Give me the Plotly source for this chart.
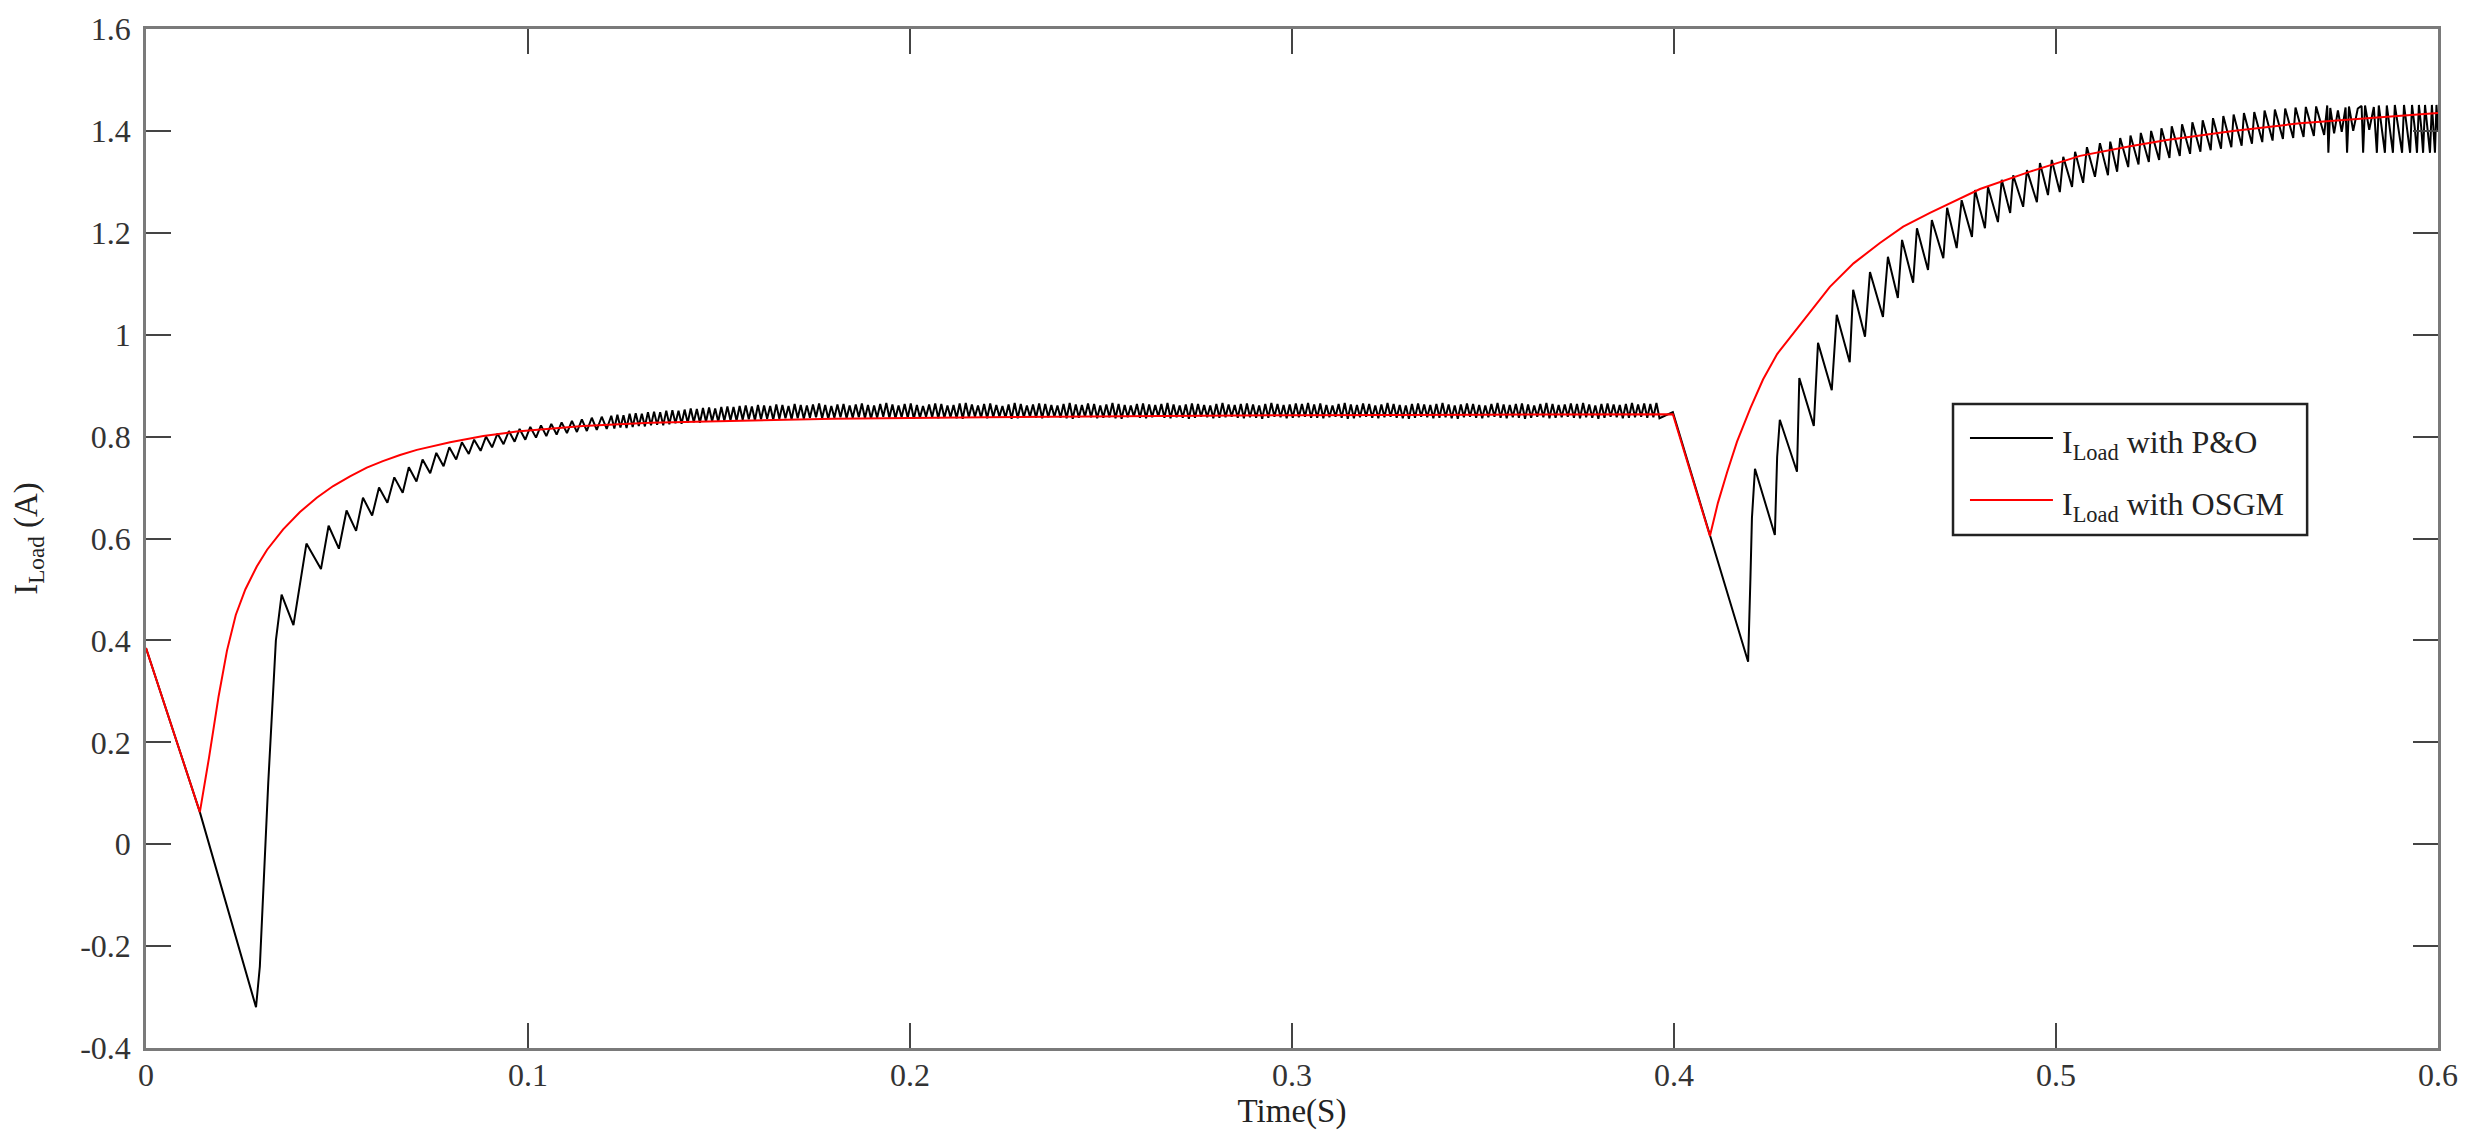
import plotly.graph_objects as go

# ---------------- data ----------------
x_tick_vals = [0, 0.1, 0.2, 0.3, 0.4, 0.5, 0.6]
x_tick_text = ["0", "0.1", "0.2", "0.3", "0.4", "0.5", "0.6"]
y_tick_vals = [-0.4, -0.2, 0, 0.2, 0.4, 0.6, 0.8, 1.0, 1.2, 1.4, 1.6]
y_tick_text = ["-0.4", "-0.2", "0", "0.2", "0.4", "0.6", "0.8", "1", "1.2", "1.4", "1.6"]

# I_Load with OSGM (red)
osgm_points = [
    (0.0, 0.385), (0.0141, 0.063), (0.0165, 0.170), (0.0190, 0.290), (0.0212, 0.380),
    (0.0235, 0.450), (0.0260, 0.500), (0.0290, 0.545), (0.0317, 0.578), (0.0359, 0.618),
    (0.0403, 0.652), (0.0447, 0.680), (0.0490, 0.703), (0.0534, 0.722), (0.0578, 0.739),
    (0.0620, 0.752), (0.0665, 0.764), (0.0709, 0.774), (0.0796, 0.789), (0.0883, 0.801),
    (0.0970, 0.810), (0.1058, 0.816), (0.1144, 0.821), (0.1320, 0.827), (0.1480, 0.830),
    (0.1800, 0.835), (0.2200, 0.838), (0.2550, 0.840), (0.3000, 0.842), (0.3500, 0.843),
    (0.3997, 0.844), (0.4094, 0.605), (0.4115, 0.670), (0.4139, 0.730), (0.4165, 0.790),
    (0.4200, 0.856), (0.4233, 0.912), (0.4270, 0.962), (0.4322, 1.012), (0.4365, 1.055),
    (0.4408, 1.094), (0.4470, 1.140), (0.4539, 1.180), (0.4600, 1.212), (0.4670, 1.239),
    (0.4801, 1.286), (0.4932, 1.320), (0.5063, 1.351), (0.5194, 1.370), (0.5290, 1.382),
    (0.5463, 1.400), (0.5639, 1.415), (0.5814, 1.425), (0.6000, 1.435),
]

# I_Load with P&O (black): start-up transient
po_startup = [
    (0.0, 0.385), (0.0141, 0.063), (0.0288, -0.320), (0.0298, -0.240), (0.0320, 0.120),
    (0.0340, 0.400), (0.0355, 0.490),
    (0.0386, 0.430), (0.0420, 0.590), (0.0458, 0.540), (0.0478, 0.625), (0.0505, 0.580),
    (0.0525, 0.655), (0.0550, 0.615), (0.0568, 0.680), (0.0592, 0.645), (0.0610, 0.700),
    (0.0632, 0.670), (0.0650, 0.720), (0.0672, 0.690), (0.0688, 0.740), (0.0708, 0.712),
    (0.0724, 0.755), (0.0744, 0.728), (0.0760, 0.768), (0.0779, 0.742), (0.0794, 0.779),
    (0.0812, 0.755), (0.0827, 0.789), (0.0845, 0.766), (0.0859, 0.794), (0.0876, 0.772),
    (0.0890, 0.800), (0.0906, 0.779), (0.0920, 0.806), (0.0936, 0.785), (0.0950, 0.811),
    (0.0965, 0.790), (0.0978, 0.815), (0.0993, 0.794), (0.1006, 0.819), (0.1021, 0.798),
    (0.1034, 0.822), (0.1048, 0.801), (0.1061, 0.825), (0.1075, 0.804), (0.1088, 0.828),
    (0.1102, 0.807), (0.1115, 0.831), (0.1128, 0.809), (0.1141, 0.834), (0.1154, 0.811),
    (0.1167, 0.837), (0.1180, 0.813), (0.1193, 0.839), (0.1206, 0.815),
]

# P&O steady-state ripple: sample start and half-period of the ripple
po_plateau_t0 = 0.1218
po_plateau_half_period = 0.0008
po_plateau_peaks = [
    0.841, 0.843, 0.842, 0.845, 0.846, 0.845, 0.848, 0.849, 0.848, 0.851,
    0.852, 0.851, 0.853, 0.855, 0.854, 0.856, 0.857, 0.855, 0.858, 0.859,
    0.858, 0.860, 0.861, 0.859, 0.862, 0.861, 0.860, 0.863, 0.862, 0.860,
    0.864, 0.862, 0.861, 0.863, 0.865, 0.862, 0.860, 0.863, 0.864, 0.861,
    0.863, 0.865, 0.862, 0.861, 0.864, 0.866, 0.863, 0.861, 0.864, 0.865,
    0.862, 0.860, 0.863, 0.865, 0.864, 0.861, 0.862, 0.865, 0.866, 0.863,
    0.861, 0.864, 0.865, 0.862, 0.860, 0.863, 0.866, 0.864, 0.861, 0.863,
    0.865, 0.864, 0.862, 0.861, 0.864, 0.866, 0.863, 0.862, 0.865, 0.864,
    0.861, 0.863, 0.866, 0.864, 0.862, 0.861, 0.864, 0.865, 0.863, 0.862,
    0.864, 0.866, 0.863, 0.861, 0.863, 0.865, 0.864, 0.862, 0.861, 0.864,
    0.866, 0.863, 0.862, 0.864, 0.865, 0.863, 0.861, 0.864, 0.866, 0.864,
    0.862, 0.863, 0.865, 0.864, 0.866, 0.863, 0.865, 0.862, 0.861, 0.864,
    0.866, 0.863, 0.862, 0.865, 0.864, 0.861, 0.863, 0.866, 0.864, 0.862,
    0.861, 0.864, 0.865, 0.863, 0.862, 0.864, 0.866, 0.863, 0.861, 0.863,
    0.865, 0.864, 0.862, 0.861, 0.864, 0.866, 0.863, 0.862, 0.864, 0.865,
    0.863, 0.861, 0.864, 0.866, 0.864, 0.862, 0.863, 0.865, 0.864, 0.866,
    0.863, 0.861, 0.864, 0.865, 0.863, 0.862, 0.864, 0.866, 0.863, 0.865,
    0.864, 0.866,
]
po_plateau_troughs = [
    0.816, 0.818, 0.817, 0.819, 0.821, 0.820, 0.822, 0.823, 0.822, 0.824,
    0.826, 0.825, 0.827, 0.828, 0.827, 0.829, 0.830, 0.829, 0.831, 0.832,
    0.831, 0.833, 0.834, 0.832, 0.834, 0.835, 0.833, 0.835, 0.836, 0.834,
    0.836, 0.835, 0.837, 0.838, 0.836, 0.835, 0.837, 0.838, 0.836, 0.837,
    0.838, 0.836, 0.835, 0.837, 0.839, 0.837, 0.836, 0.838, 0.837, 0.835,
    0.837, 0.839, 0.838, 0.836, 0.837, 0.838, 0.836, 0.835, 0.838, 0.839,
    0.837, 0.836, 0.838, 0.839, 0.837, 0.835, 0.836, 0.838, 0.839, 0.837,
    0.836, 0.838, 0.839, 0.837, 0.836, 0.835, 0.837, 0.839, 0.838, 0.836,
    0.837, 0.838, 0.836, 0.835, 0.838, 0.839, 0.837, 0.836, 0.838, 0.839,
    0.837, 0.836, 0.838, 0.837, 0.835, 0.837, 0.839, 0.838, 0.836, 0.837,
    0.838, 0.839, 0.837, 0.836, 0.838, 0.837, 0.835, 0.837, 0.839, 0.838,
    0.836, 0.837, 0.838, 0.839, 0.837, 0.837, 0.836, 0.838, 0.839, 0.837,
    0.835, 0.836, 0.838, 0.839, 0.837, 0.836, 0.838, 0.839, 0.837, 0.836,
    0.835, 0.837, 0.839, 0.838, 0.836, 0.837, 0.838, 0.836, 0.835, 0.838,
    0.839, 0.837, 0.836, 0.838, 0.839, 0.837, 0.836, 0.838, 0.837, 0.835,
    0.837, 0.839, 0.838, 0.836, 0.837, 0.838, 0.839, 0.837, 0.836, 0.838,
    0.837, 0.835, 0.837, 0.839, 0.838, 0.836, 0.837, 0.838, 0.839, 0.837,
    0.838, 0.836,
]

# P&O after the irradiance step at t = 0.4 s
po_recovery = [
    (0.3997, 0.848), (0.4194, 0.358), (0.4200, 0.520), (0.4204, 0.640), (0.4212, 0.737),
    (0.4264, 0.607), (0.4270, 0.760), (0.4277, 0.833), (0.4322, 0.731), (0.4328, 0.915),
    (0.4366, 0.821), (0.4377, 0.984), (0.4413, 0.891), (0.4426, 1.039), (0.4460, 0.946),
    (0.4469, 1.088), (0.4500, 0.996), (0.4513, 1.123), (0.4547, 1.035), (0.4560, 1.153),
    (0.4586, 1.072), (0.4597, 1.186), (0.4626, 1.102), (0.4636, 1.209), (0.4665, 1.127),
    (0.4675, 1.225), (0.4705, 1.150), (0.4715, 1.249), (0.4740, 1.170), (0.4753, 1.264),
    (0.4780, 1.192), (0.4788, 1.284), (0.4814, 1.209), (0.4822, 1.290), (0.4848, 1.221),
    (0.4858, 1.304), (0.4880, 1.239), (0.4888, 1.313), (0.4914, 1.251), (0.4924, 1.323),
    (0.4950, 1.260), (0.4958, 1.337), (0.4979, 1.274), (0.4989, 1.343), (0.5010, 1.280),
    (0.5019, 1.349), (0.5042, 1.290), (0.5050, 1.359), (0.5071, 1.298), (0.5081, 1.368),
    (0.5102, 1.310), (0.5115, 1.376), (0.5136, 1.313), (0.5142, 1.379), (0.5160, 1.320),
    (0.5168, 1.386), (0.5189, 1.329),
    (0.5195, 1.391), (0.5216, 1.334), (0.5222, 1.396), (0.5243, 1.339), (0.5249, 1.400),
    (0.5270, 1.343), (0.5276, 1.405), (0.5297, 1.347), (0.5303, 1.409), (0.5324, 1.351),
    (0.5330, 1.413), (0.5351, 1.355), (0.5357, 1.417), (0.5378, 1.359), (0.5384, 1.421),
    (0.5405, 1.362), (0.5411, 1.425), (0.5432, 1.365), (0.5438, 1.429), (0.5459, 1.368),
    (0.5465, 1.432), (0.5486, 1.371), (0.5492, 1.435), (0.5513, 1.375), (0.5519, 1.437),
    (0.5540, 1.378), (0.5546, 1.440), (0.5567, 1.381), (0.5573, 1.442), (0.5594, 1.384),
    (0.5600, 1.444), (0.5621, 1.386), (0.5627, 1.446), (0.5648, 1.388), (0.5654, 1.447),
    (0.5675, 1.390), (0.5681, 1.448), (0.5702, 1.392),
    (0.5710, 1.450), (0.5713, 1.357), (0.5718, 1.445), (0.5728, 1.395), (0.5738, 1.440),
    (0.5748, 1.398), (0.5758, 1.446), (0.5762, 1.357), (0.5767, 1.448), (0.5778, 1.400),
    (0.5790, 1.444), (0.5800, 1.449), (0.5804, 1.357), (0.5809, 1.450), (0.5820, 1.402),
    (0.5832, 1.447), (0.5840, 1.357), (0.5845, 1.450), (0.5853, 1.403), (0.5861, 1.357),
    (0.5866, 1.450), (0.5874, 1.404), (0.5882, 1.357), (0.5887, 1.451), (0.5896, 1.405),
    (0.5906, 1.357), (0.5911, 1.451), (0.5919, 1.406), (0.5927, 1.357), (0.5932, 1.451),
    (0.5939, 1.407), (0.5945, 1.357), (0.5950, 1.451), (0.5956, 1.408), (0.5961, 1.357),
    (0.5966, 1.451), (0.5972, 1.409), (0.5979, 1.357), (0.5984, 1.451), (0.5988, 1.409),
    (0.5992, 1.357), (0.5996, 1.451), (0.6000, 1.400),
]

legend_names = ["I<sub>Load</sub> with P&O", "I<sub>Load</sub> with OSGM"]
line_colors = ["#000000", "#ff0000"]

# ---------------- assemble series ----------------
po_t = [p[0] for p in po_startup]
po_v = [p[1] for p in po_startup]
for k in range(min(len(po_plateau_peaks), len(po_plateau_troughs))):
    tp = po_plateau_t0 + 2 * k * po_plateau_half_period
    po_t += [tp, tp + po_plateau_half_period]
    po_v += [po_plateau_peaks[k], po_plateau_troughs[k]]
po_t += [p[0] for p in po_recovery]
po_v += [p[1] for p in po_recovery]

os_t = [p[0] for p in osgm_points]
os_v = [p[1] for p in osgm_points]

FONT = "Liberation Serif"

fig = go.Figure()
fig.add_trace(go.Scatter(x=po_t, y=po_v, mode="lines", name=legend_names[0],
                         line=dict(color=line_colors[0], width=2), showlegend=False))
fig.add_trace(go.Scatter(x=os_t, y=os_v, mode="lines", name=legend_names[1],
                         line=dict(color=line_colors[1], width=2), showlegend=False))

axis_common = dict(
    showline=True, linecolor="#7a7a7a", linewidth=2.5, mirror="ticks",
    ticks="inside", ticklen=25, tickwidth=2, tickcolor="#444",
    showgrid=False, zeroline=False, automargin=False,
    tickfont=dict(family=FONT, size=32, color="#333"),
)
fig.update_xaxes(range=[0, 0.6], tickvals=x_tick_vals, ticktext=x_tick_text,
                 title=dict(text="Time(S)", font=dict(family=FONT, size=33, color="#222"), standoff=4),
                 ticklabelstandoff=-3, **axis_common)
fig.update_yaxes(range=[-0.4, 1.6], tickvals=y_tick_vals, ticktext=y_tick_text,
                 title=dict(text="I<sub>Load</sub> (A)", font=dict(family=FONT, size=33, color="#222"), standoff=36),
                 ticklabelstandoff=6, **axis_common)

# legend box drawn in paper coordinates
lx0, lx1, ly0, ly1 = 0.7884, 0.9429, 0.5034, 0.632
row_y = [0.5986, 0.5378]
shapes = [dict(type="rect", xref="paper", yref="paper", x0=lx0, x1=lx1, y0=ly0, y1=ly1,
               line=dict(color="#222", width=2.5), fillcolor="white", layer="above")]
annotations = []
for i in range(2):
    shapes.append(dict(type="line", xref="paper", yref="paper", x0=0.7958, x1=0.8320,
                       y0=row_y[i], y1=row_y[i], line=dict(color=line_colors[i], width=2), layer="above"))
    annotations.append(dict(xref="paper", yref="paper", x=0.8351, y=row_y[i] - 0.006,
                            xanchor="left", yanchor="middle", showarrow=False,
                            text=legend_names[i], font=dict(family=FONT, size=32, color="#222")))

# the page body adds an 8 px offset, so margins are compensated
fig.update_layout(
    width=2472, height=1142,
    margin=dict(l=138, r=42, t=21, b=102),
    paper_bgcolor="white", plot_bgcolor="white",
    shapes=shapes, annotations=annotations,
    showlegend=False,
)

fig.write_html("out.html")
